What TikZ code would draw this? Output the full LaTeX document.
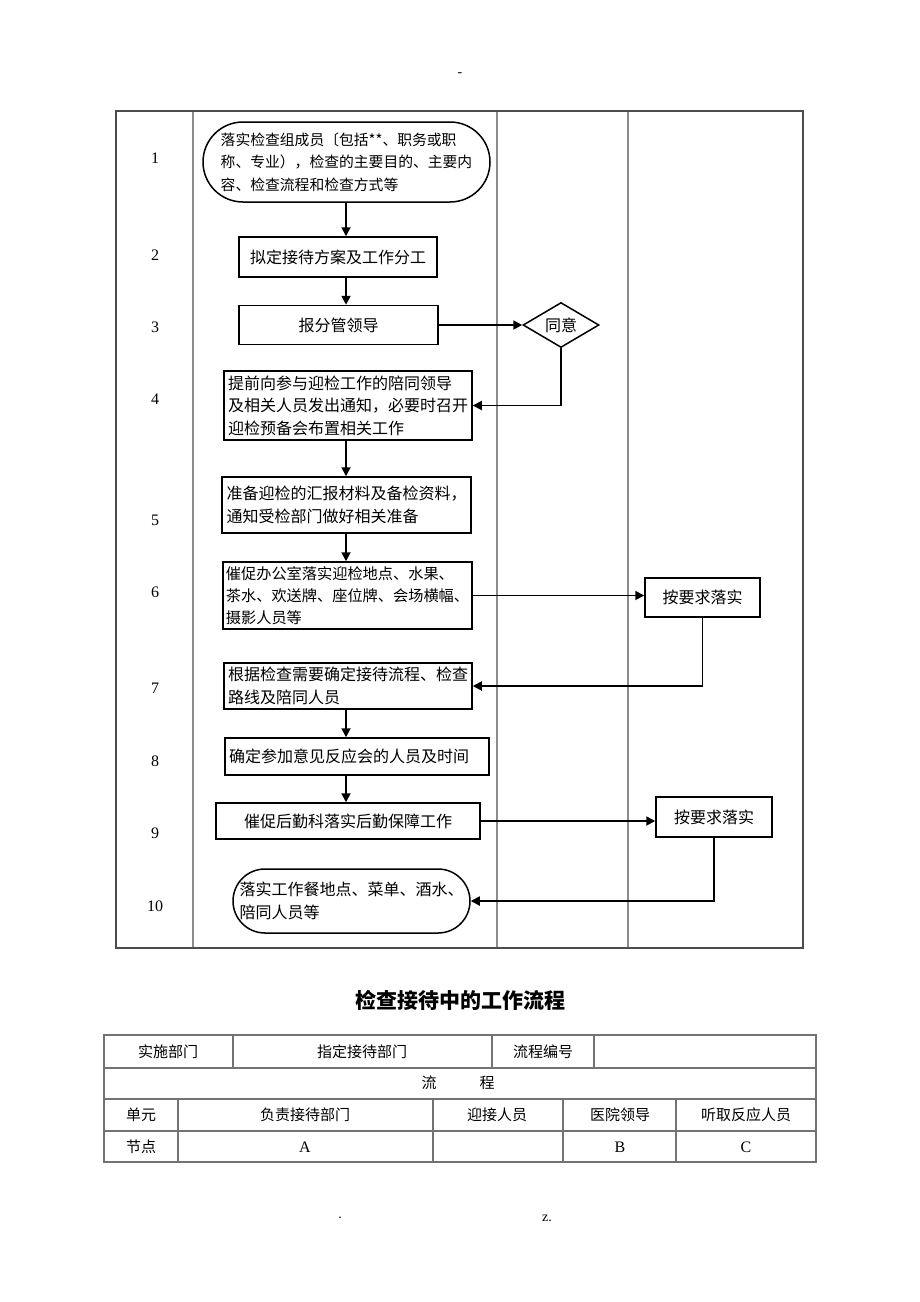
\documentclass[tikz,border=0pt]{standalone}
\usepackage{fontspec}
\setmainfont{Liberation Serif}
\newfontfamily\cjkfont{Noto Sans CJK SC}
\usetikzlibrary{shapes.geometric,arrows.meta}
\newcommand\flowfont{\cjkfont\fontsize{8}{11.25}\selectfont}
\newcommand\tablefont{\cjkfont\fontsize{7.5}{9}\selectfont}
\tikzset{
  box/.style={draw, line width=0.75pt, font=\flowfont, inner sep=2pt},
  roundbox/.style={box, rounded corners=#1},
  okbox/.style={box, minimum width=57.5pt, minimum height=19.5pt},
  flow/.style={line width=0.9pt, -{Triangle[length=4.5pt,width=4.5pt]}},
  lane/.style={black!45, line width=0.7pt},
  tbl/.style={black!55, line width=0.7pt},
}

\begin{document}
\begin{tikzpicture}[x=0.5pt,y=-0.5pt]
  \useasboundingbox (0,0) rectangle (920,1302);

  % draws the page marks
  \node (dash) at (460,75) {\fontsize{7}{8}\selectfont -};
  \node (dot) at (340,1218) {\fontsize{7}{8}\selectfont .};
  \node (zdot) at (547,1218) {\fontsize{7}{8}\selectfont z.};

  % draws the swimlanes
  \foreach \x in {193,497,628}
    \draw[lane] (\x,111) -- (\x,948);
  \draw[black!70, line width=0.8pt] (116,111) rectangle (803,948);

  % draws the step numbers
  \foreach \n/\y in {1/158,2/255,3/327,4/399,5/520,6/592,7/688,8/761,9/833,10/906}
    \node[font=\fontsize{8}{9}\selectfont] (num\n) at (155,\y) {\n};

  \coordinate (axis) at (346,0);

  % draws the steps
  \node[roundbox=20pt, font=\cjkfont\fontsize{7.4}{11.25}\selectfont, minimum width=143.5pt, minimum height=40pt, align=left] (n1) at (346.5,162)
    {落实检查组成员〔包括**、职务或职\\称、专业），检查的主要目的、主要内\\容、检查流程和检查方式等};
  \node[box, minimum width=99pt, minimum height=20pt] (n2) at (338,257) {拟定接待方案及工作分工};
  \node[box, minimum width=99.5pt, minimum height=19.5pt] (n3) at (338.5,325) {报分管领导};
  \node[box, diamond, aspect=1.7, inner sep=1pt, minimum width=38pt, minimum height=22.5pt] (agree) at (561,325) {同意};
  \node[box, minimum width=124pt, minimum height=34.5pt, align=left] (n4) at (348,405.5)
    {提前向参与迎检工作的陪同领导\\及相关人员发出通知，必要时召开\\迎检预备会布置相关工作};
  \node[box, minimum width=124.5pt, minimum height=28pt, align=left] (n5) at (346.5,505)
    {准备迎检的汇报材料及备检资料，\\通知受检部门做好相关准备};
  \node[box, font=\cjkfont\fontsize{7.6}{11}\selectfont, inner xsep=1pt, minimum width=124.5pt, minimum height=33.5pt, align=left] (n6) at (347.5,595.5)
    {催促办公室落实迎检地点、水果、\\茶水、欢送牌、座位牌、会场横幅、\\摄影人员等};
  \node[okbox] (ok1) at (702.5,597.5) {按要求落实};
  \node[box, minimum width=124pt, minimum height=23pt, align=left] (n7) at (348,686)
    {根据检查需要确定接待流程、检查\\路线及陪同人员};
  \node[box, text width=128pt, minimum height=18.5pt, align=left] (n8) at (357,756.5)
    {确定参加意见反应会的人员及时间};
  \node[box, minimum width=132pt, minimum height=18pt] (n9) at (348,821) {催促后勤科落实后勤保障工作};
  \node[okbox, minimum width=58pt, minimum height=20pt] (ok2) at (714,817) {按要求落实};
  \node[roundbox=16pt, minimum width=118.5pt, minimum height=32pt, align=left] (n10) at (351.5,901)
    {落实工作餐地点、菜单、酒水、\\陪同人员等};

  % draws the connectors
  \draw[flow] (n1.south -| axis) -- (n2.north -| axis);
  \draw[flow] (n2.south -| axis) -- (n3.north -| axis);
  \draw[flow] (n3.east) -- (agree.west);
  \draw[flow] (agree.south) |- (n4.east);
  \draw[flow] (n4.south -| axis) -- (n5.north -| axis);
  \draw[flow] (n5.south -| axis) -- (n6.north -| axis);
  \draw[flow] (n6.east) -- (n6.east -| ok1.west);
  \draw[flow] (ok1.south) |- (n7.east);
  \draw[flow] (n7.south -| axis) -- (n8.north -| axis);
  \draw[flow] (n8.south -| axis) -- (n9.north -| axis);
  \draw[flow] (n9.east) -- (n9.east -| ok2.west);
  \draw[flow] (ok2.south) |- (n10.east);

  % draws the title and the table
  \node[font=\cjkfont\bfseries\fontsize{10.5}{12}\selectfont] (title) at (460,1000) {检查接待中的工作流程};
  \draw[tbl] (104,1035) rectangle (816,1162);
  \foreach \y in {1068,1099,1131}
    \draw[tbl] (104,\y) -- (816,\y);
  \foreach \x in {233,492,594}
    \draw[tbl] (\x,1035) -- (\x,1068);
  \foreach \x in {178,433,563,676}
    \draw[tbl] (\x,1099) -- (\x,1162);
  \foreach \name/\x/\y/\t in {dept/168/1052/实施部门, host/362/1052/指定接待部门, code/543/1052/流程编号,
      unit/141/1115/单元, resp/305/1115/负责接待部门, meet/497/1115/迎接人员, lead/620/1115/医院领导, hear/746/1115/听取反应人员,
      node/141/1147/节点}
    \node[font=\tablefont] (\name) at (\x,\y) {\t};
  \node[font=\tablefont] (flowa) at (429,1083) {流};
  \node[font=\tablefont] (flowb) at (487,1083) {程};
  \foreach \name/\x/\t in {ka/305/A, kb/620/B, kc/746/C}
    \node[font=\fontsize{8}{9}\selectfont] (\name) at (\x,1147) {\t};
\end{tikzpicture}
\end{document}
